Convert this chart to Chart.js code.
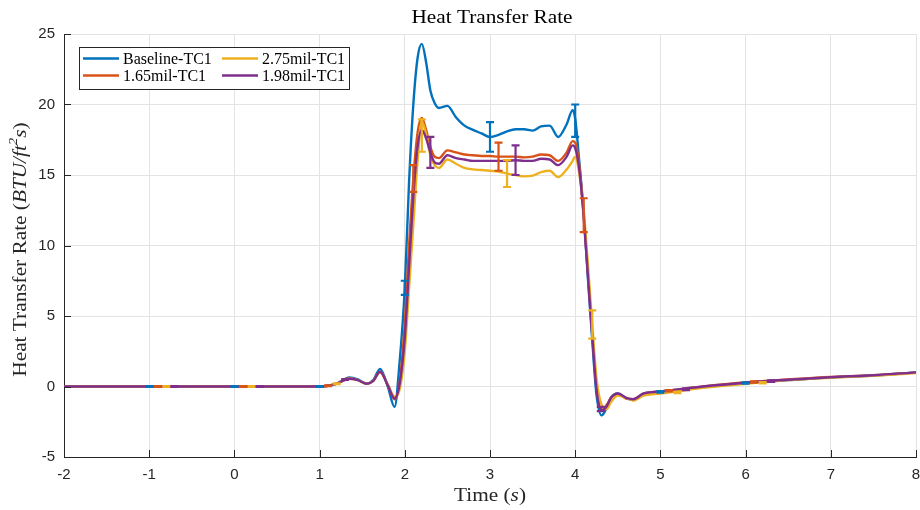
<!DOCTYPE html>
<html>
<head>
<meta charset="utf-8">
<script src="https://cdn.jsdelivr.net/npm/chart.js@4/dist/chart.umd.min.js"></script>
<style>
  body { margin: 0; background: #fff; }
  #wrap { width: 920px; height: 510px; }
</style>
</head>
<body>
<div id="wrap"><canvas id="heatChart"></canvas></div>
<script>
// time samples (s), shared by all four traces
const times = [
  -2, -1, 0, 0.9, 1.0, 1.1, 1.2, 1.35, 1.45, 1.55,
  1.63, 1.71, 1.8, 1.88, 1.94, 2.0, 2.05, 2.1, 2.15, 2.2,
  2.25, 2.3, 2.35, 2.4, 2.5, 2.6, 2.7, 2.8, 2.9, 3.0,
  3.1, 3.2, 3.3, 3.4, 3.5, 3.6, 3.7, 3.8, 3.9, 3.97,
  4.0, 4.05, 4.1, 4.15, 4.2, 4.25, 4.31, 4.37, 4.42, 4.5,
  4.6, 4.68, 4.8, 4.9, 5.0, 5.5, 6.0, 6.5, 7.0, 7.5,
  8.0
];

const baseline = [
  0, 0, 0, 0, 0, 0.05, 0.2, 0.65, 0.5, 0.2,
  0.45, 1.25, 0.0, -1.45, 1.8, 7.0, 14.5, 20.0, 23.3, 24.3,
  23.0, 21.0, 20.1, 19.75, 19.9, 19.1, 18.5, 18.2, 17.95, 17.7,
  17.85, 18.1, 18.25, 18.25, 18.15, 18.45, 18.5, 17.7, 18.6, 19.6,
  19.0, 15.8, 12.3, 7.6, 3.3, -0.6, -2.05, -1.5, -0.8, -0.5,
  -0.85, -0.95, -0.5, -0.42, -0.38, -0.05, 0.25, 0.45, 0.65, 0.78,
  1.0
];

const mil165 = [
  0, 0, 0, 0, 0, 0.05, 0.2, 0.58, 0.45, 0.2,
  0.4, 1.05, 0.1, -0.9, 0.3, 4.5, 10.0, 14.75, 18.0, 19.05,
  18.2, 17.0, 16.3, 16.2, 16.75, 16.6, 16.45, 16.4, 16.35, 16.35,
  16.3, 16.3, 16.3, 16.25, 16.3, 16.45, 16.4, 16.0, 16.6, 17.4,
  17.3, 15.6, 12.1, 8.0, 3.8, 0.0, -1.65, -1.3, -0.8, -0.55,
  -0.85, -0.9, -0.5, -0.4, -0.35, 0.0, 0.3, 0.5, 0.68, 0.8,
  1.0
];

const mil275 = [
  0, 0, 0, 0, 0, 0.05, 0.2, 0.55, 0.45, 0.2,
  0.4, 1.0, 0.15, -0.7, -0.2, 2.5, 7.0, 11.5, 16.0, 18.8,
  17.9, 16.4, 15.7, 15.5, 16.1, 15.8, 15.5, 15.4, 15.35, 15.3,
  15.25, 15.1, 15.0, 14.9, 14.95, 15.2, 15.3, 14.85, 15.4, 16.0,
  16.3, 15.0, 12.5, 8.6, 4.4, 0.6, -1.3, -1.6, -1.1, -0.65,
  -0.8, -1.0, -0.65, -0.55, -0.5, -0.1, 0.2, 0.45, 0.62, 0.76,
  0.95
];

const mil198 = [
  0, 0, 0, 0, 0, 0.05, 0.2, 0.55, 0.45, 0.2,
  0.4, 1.05, 0.1, -0.85, 0.2, 3.5, 8.5, 13.5, 17.0, 18.2,
  17.6, 16.6, 15.9, 15.8, 16.4, 16.2, 16.1, 16.0, 16.0, 16.0,
  16.0, 16.0, 16.05, 16.0, 16.0, 16.15, 16.1, 15.7, 16.3, 17.1,
  16.9, 15.3, 12.0, 7.8, 3.6, -0.2, -1.7, -1.4, -0.8, -0.5,
  -0.8, -0.9, -0.5, -0.4, -0.35, 0.0, 0.27, 0.48, 0.66, 0.8,
  1.0
];

// error bars: position, centre, half-length
const baselineErrT = [-1, 0, 1, 2, 3, 4, 5, 6];
const baselineErrY = [0, 0, 0, 7.0, 17.7, 18.85, -0.38, 0.25];
const baselineErrE = [0.03, 0.03, 0.03, 0.5, 1.05, 1.15, 0.05, 0.05];

const mil165ErrT = [-0.9, 0.1, 1.1, 2.1, 3.1, 4.1, 5.1, 6.1];
const mil165ErrY = [0, 0, 0.05, 14.75, 16.3, 12.15, -0.3, 0.32];
const mil165ErrE = [0.03, 0.03, 0.03, 0.95, 1.0, 1.2, 0.05, 0.05];

const mil275ErrT = [-0.8, 0.2, 1.2, 2.2, 3.2, 4.2, 5.2, 6.2];
const mil275ErrY = [0, 0, 0.2, 17.8, 15.1, 4.4, -0.42, 0.27];
const mil275ErrE = [0.03, 0.03, 0.03, 1.15, 0.95, 1.0, 0.05, 0.05];

const mil198ErrT = [-0.7, 0.3, 1.3, 2.3, 3.3, 4.3, 5.3, 6.3];
const mil198ErrY = [0, 0, 0.5, 16.6, 16.05, -1.6, -0.2, 0.38];
const mil198ErrE = [0.03, 0.03, 0.03, 1.1, 1.05, 0.15, 0.05, 0.05];

const seriesLabels = ['Baseline-TC1', '1.65mil-TC1', '2.75mil-TC1', '1.98mil-TC1'];
const xTicks = [-2, -1, 0, 1, 2, 3, 4, 5, 6, 7, 8];
const yTicks = [-5, 0, 5, 10, 15, 20, 25];

const AXIS = '#262626';
const colors = ['#0072BD', '#D95319', '#EDB120', '#7E2F8E'];
const SERIF = '"Liberation Serif", "Times New Roman", serif';

function pts(vals) {
  return times.map((t, i) => ({ x: t, y: vals[i] }));
}

function makeSet(idx, vals, eT, eY, eE) {
  return {
    label: seriesLabels[idx],
    data: pts(vals),
    borderColor: colors[idx],
    borderWidth: 2.4,
    pointRadius: 0,
    fill: false,
    cubicInterpolationMode: 'monotone',
    order: 3 - idx,
    errT: eT, errY: eY, errE: eE
  };
}

// runs of text: [str, italic, superscript]
function fontFor(r, size) {
  const sz = r[2] ? size * 0.7 : size;
  return (r[1] ? 'italic ' : '') + sz + 'px ' + SERIF;
}
function runsWidth(ctx, runs, size) {
  let w = 0;
  runs.forEach(r => { ctx.font = fontFor(r, size); w += ctx.measureText(r[0]).width; });
  return w;
}
// centred at (cx, cy), stretched a bit to get the wider TeX look
function drawRunsCentred(ctx, runs, size, cx, cy, angle, stretch) {
  const w = runsWidth(ctx, runs, size);
  ctx.save();
  ctx.translate(cx, cy);
  ctx.rotate(angle);
  ctx.scale(stretch, 1);
  let x = -w / 2;
  runs.forEach(r => {
    ctx.font = fontFor(r, size);
    ctx.fillText(r[0], x, r[2] ? -size * 0.38 : 0);
    x += ctx.measureText(r[0]).width;
  });
  ctx.restore();
}

const errorBars = {
  id: 'errorBars',
  afterDatasetsDraw(chart) {
    const ctx = chart.ctx;
    const xs = chart.scales.x, ys = chart.scales.y;
    ctx.save();
    chart.data.datasets.forEach(ds => {
      ctx.strokeStyle = ds.borderColor;
      ctx.lineWidth = 2.2;
      ds.errT.forEach((t, i) => {
        const px = xs.getPixelForValue(t);
        const top = ys.getPixelForValue(ds.errY[i] + ds.errE[i]);
        const bot = ys.getPixelForValue(ds.errY[i] - ds.errE[i]);
        ctx.beginPath();
        ctx.moveTo(px, top); ctx.lineTo(px, bot);
        ctx.moveTo(px - 4, top); ctx.lineTo(px + 4, top);
        ctx.moveTo(px - 4, bot); ctx.lineTo(px + 4, bot);
        ctx.stroke();
      });
    });
    ctx.restore();
  }
};

const decor = {
  id: 'decor',
  afterDraw(chart) {
    const ctx = chart.ctx;
    const a = chart.chartArea;
    const xs = chart.scales.x, ys = chart.scales.y;
    const midX = (a.left + a.right) / 2;
    ctx.save();

    // inward tick marks
    ctx.strokeStyle = AXIS;
    ctx.lineWidth = 1;
    ctx.beginPath();
    yTicks.forEach(v => {
      const py = Math.round(ys.getPixelForValue(v)) + 0.5;
      ctx.moveTo(a.left, py); ctx.lineTo(a.left + 7, py);
    });
    xTicks.forEach(v => {
      const px = Math.round(xs.getPixelForValue(v)) + 0.5;
      ctx.moveTo(px, a.bottom); ctx.lineTo(px, a.bottom - 7);
    });
    ctx.stroke();

    // title and axis titles
    ctx.textBaseline = 'middle';
    ctx.textAlign = 'left';
    ctx.fillStyle = '#000';
    drawRunsCentred(ctx, [['Heat Transfer Rate', false]], 19, midX + 2, 18, 0, 1.12);
    ctx.fillStyle = AXIS;
    drawRunsCentred(ctx, [['Time (', false], ['s', true], [')', false]], 19, midX, 496, 0, 1.12);
    drawRunsCentred(ctx, [['Heat Transfer Rate (', false], ['BTU/ft', true], ['2', true, true], ['s', true], [')', false]],
      19, 21, (a.top + a.bottom) / 2 + 4, -Math.PI / 2, 1.12);

    // legend box
    const bx = 79.5, by = 47.5, bw = 270, bh = 42;
    ctx.fillStyle = '#fff';
    ctx.fillRect(bx, by, bw, bh);
    ctx.strokeStyle = AXIS;
    ctx.lineWidth = 1;
    ctx.strokeRect(bx, by, bw, bh);
    const colX = [83, 222], rowY = [58.5, 75.5];
    chart.data.datasets.forEach((ds, i) => {
      const c = Math.floor(i / 2), r = i % 2;
      ctx.strokeStyle = ds.borderColor;
      ctx.lineWidth = 2.4;
      ctx.beginPath();
      ctx.moveTo(colX[c], rowY[r]);
      ctx.lineTo(colX[c] + 36, rowY[r]);
      ctx.stroke();
      ctx.fillStyle = '#000';
      ctx.font = '16px ' + SERIF;
      ctx.fillText(ds.label, colX[c] + 40, rowY[r] + 1);
    });
    ctx.restore();
  }
};

new Chart(document.getElementById('heatChart'), {
  type: 'line',
  data: {
    datasets: [
      makeSet(0, baseline, baselineErrT, baselineErrY, baselineErrE),
      makeSet(1, mil165, mil165ErrT, mil165ErrY, mil165ErrE),
      makeSet(2, mil275, mil275ErrT, mil275ErrY, mil275ErrE),
      makeSet(3, mil198, mil198ErrT, mil198ErrY, mil198ErrE)
    ]
  },
  options: {
    responsive: true,
    maintainAspectRatio: false,
    animation: false,
    layout: { padding: { top: 34, right: 4, left: 0, bottom: 0 } },
    plugins: {
      legend: { display: false },
      tooltip: { enabled: false },
      title: { display: false }
    },
    scales: {
      x: {
        type: 'linear',
        min: -2, max: 8,
        afterFit: s => { s.height = 53; s.paddingLeft = 0; s.paddingRight = 0; },
        afterBuildTicks: s => { s.ticks = xTicks.map(v => ({ value: v })); },
        grid: { color: '#e3e3e3', drawTicks: false },
        border: { color: AXIS, width: 1 },
        ticks: { color: AXIS, padding: 9, font: { family: '"Liberation Sans", Arial, sans-serif', size: 15 } }
      },
      y: {
        min: -5, max: 25,
        afterFit: s => { s.width = 64; s.paddingTop = 0; s.paddingBottom = 0; },
        afterBuildTicks: s => { s.ticks = yTicks.map(v => ({ value: v })); },
        grid: { color: '#e3e3e3', drawTicks: false },
        border: { color: AXIS, width: 1 },
        ticks: { color: AXIS, padding: 9, font: { family: '"Liberation Sans", Arial, sans-serif', size: 15 } }
      }
    }
  },
  plugins: [errorBars, decor]
});
</script>
</body>
</html>
